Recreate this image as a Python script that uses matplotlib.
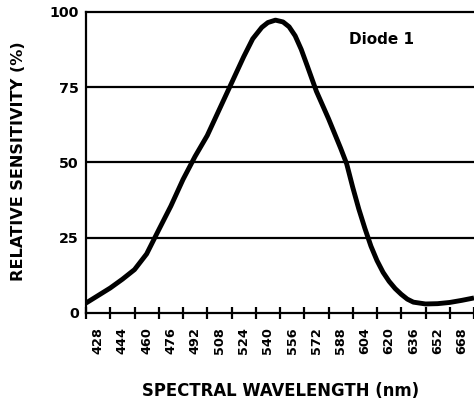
import matplotlib
matplotlib.use("Agg")
import matplotlib.pyplot as plt
import numpy as np

wavelength = [420, 428, 436, 444, 452, 460, 468, 476, 484, 492, 500, 508, 516, 524,
              530, 536, 540, 545, 550, 554, 558, 562, 566, 572, 580, 588, 592, 596,
              600, 604, 608, 612, 616, 620, 624, 628, 632, 636, 644, 652, 660, 668, 676]
sensitivity = [3.3, 5.8, 8.3, 11.2, 14.4, 19.6, 27.6, 35.5, 44.3, 52.0, 58.9, 67.6, 76.3, 85.0,
               91.0, 94.8, 96.4, 97.2, 96.6, 95.0, 92.0, 87.5, 82.0, 73.6, 64.5, 54.7, 49.5, 41.7,
               34.5, 28.1, 22.2, 17.4, 13.5, 10.5, 8.1, 6.2, 4.6, 3.6, 3.0, 3.1, 3.5, 4.2, 5.0]
tick_edges = list(range(420, 677, 16))
tick_labels = [str(v) for v in range(428, 669, 16)]
y_ticks = [0, 25, 50, 75, 100]

plt.rcParams['font.family'] = ['DejaVu Sans']
plt.rcParams['font.weight'] = 'bold'

fig = plt.figure(figsize=(4.74, 4.05), dpi=100)
ax = fig.add_axes([86/474, 1-313/405, 1-86/474, (313-11.7)/405])

ax.plot(wavelength, sensitivity, color='black', lw=3.5, solid_capstyle='butt',
        solid_joinstyle='round', zorder=3)

ax.set_xlim(420, 676)
ax.set_ylim(0, 100)

for y in [25, 50, 75]:
    ax.axhline(y, color='black', lw=1.6, zorder=1)

ax.set_xticks(tick_edges)
ax.set_xticklabels([])
ax.set_xticks([e + 8 for e in tick_edges[:-1]], minor=True)
ax.set_xticklabels(tick_labels, minor=True, rotation=90, fontsize=9.3, fontweight='bold')
ax.tick_params(axis='x', which='major', direction='inout', length=9, width=1.6, color='black')
ax.tick_params(axis='x', which='minor', length=0, pad=10)

ax.set_yticks(y_ticks)
ax.set_yticklabels([str(v) for v in y_ticks], fontsize=10.3, fontweight='bold')
ax.tick_params(axis='y', length=0, pad=5)

for s in ['left', 'bottom', 'top']:
    ax.spines[s].set_linewidth(1.6)
    ax.spines[s].set_color('black')
ax.spines['right'].set_visible(False)

ax.text((381.5-86)/388, (313-39.5)/301.3, 'Diode 1', transform=ax.transAxes,
        ha='center', va='center', fontsize=11, fontweight='bold')

fig.text(281/474, 1-391/405, 'SPECTRAL WAVELENGTH (nm)', ha='center', va='center',
         fontsize=11.9, fontweight='bold')
fig.text(19/474, 1-161/405, 'RELATIVE SENSITIVITY (%)', ha='center', va='center',
         rotation=90, fontsize=11.6, fontweight='bold')

fig.savefig('out.png', dpi=100)
